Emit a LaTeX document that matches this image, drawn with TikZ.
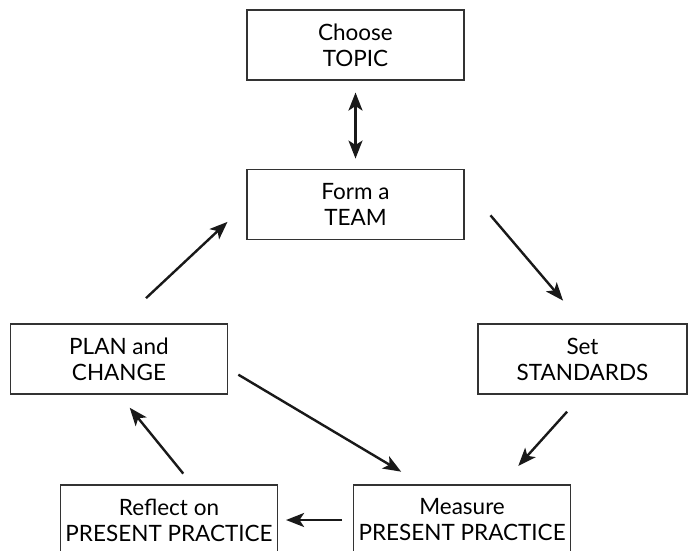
\documentclass[tikz,border=0pt]{standalone}
\usepackage{fontspec}
\setmainfont{Lato}
\usepackage{tikz}
\usetikzlibrary{positioning}
\usetikzlibrary{arrows.meta}
\tikzset{>={Stealth[length=18pt,width=14pt,inset=4.5pt]}}

\begin{document}
\begin{tikzpicture}[x=1pt, y=-1pt, box/.style={rectangle, draw=black!80, line width=1.1pt, minimum width=217pt, minimum height=70pt, inner sep=0pt, align=center, font=\fontsize{22.5}{26}\selectfont}, link/.style={->, line width=2.4pt, black!90}]
    \useasboundingbox (0,0) rectangle (688,551);

    %Nodes
    \node[box](topic) at (355.5,45){Choose\\TOPIC};
    \node[box](team)[below=88pt of topic]{Form a\\TEAM};
    \node[box](plan) at (119,359){PLAN and\\CHANGE};
    \node[box, minimum width=209pt](stand) at (582.5,359){Set\\STANDARDS};
    \node[box](reflect) at (169,520){Reflect on\\PRESENT PRACTICE};
    \node[box](measure)[right=75pt of reflect]{Measure\\PRESENT PRACTICE};

    %Lines
    \draw[link, <->, shorten <=12pt, shorten >=10pt] (topic.south) -- (team.north);
    \draw[link, shorten <=40pt, shorten >=30pt] (team.10) -- (stand.north);
    \draw[link, shorten <=23pt, shorten >=25pt] (stand.south) -- (measure.42);
    \draw[link, shorten <=11pt, shorten >=8pt] (measure.west) -- (reflect.east);
    \draw[link, shorten <=14pt, shorten >=17pt] (reflect.57) -- (plan.south);
    \draw[link, shorten <=12pt, shorten >=25pt] (plan.-5) -- (measure.138);
    \draw[link, shorten <=37pt, shorten >=26pt] (plan.north) -- (team.west);

\end{tikzpicture}
\end{document}
